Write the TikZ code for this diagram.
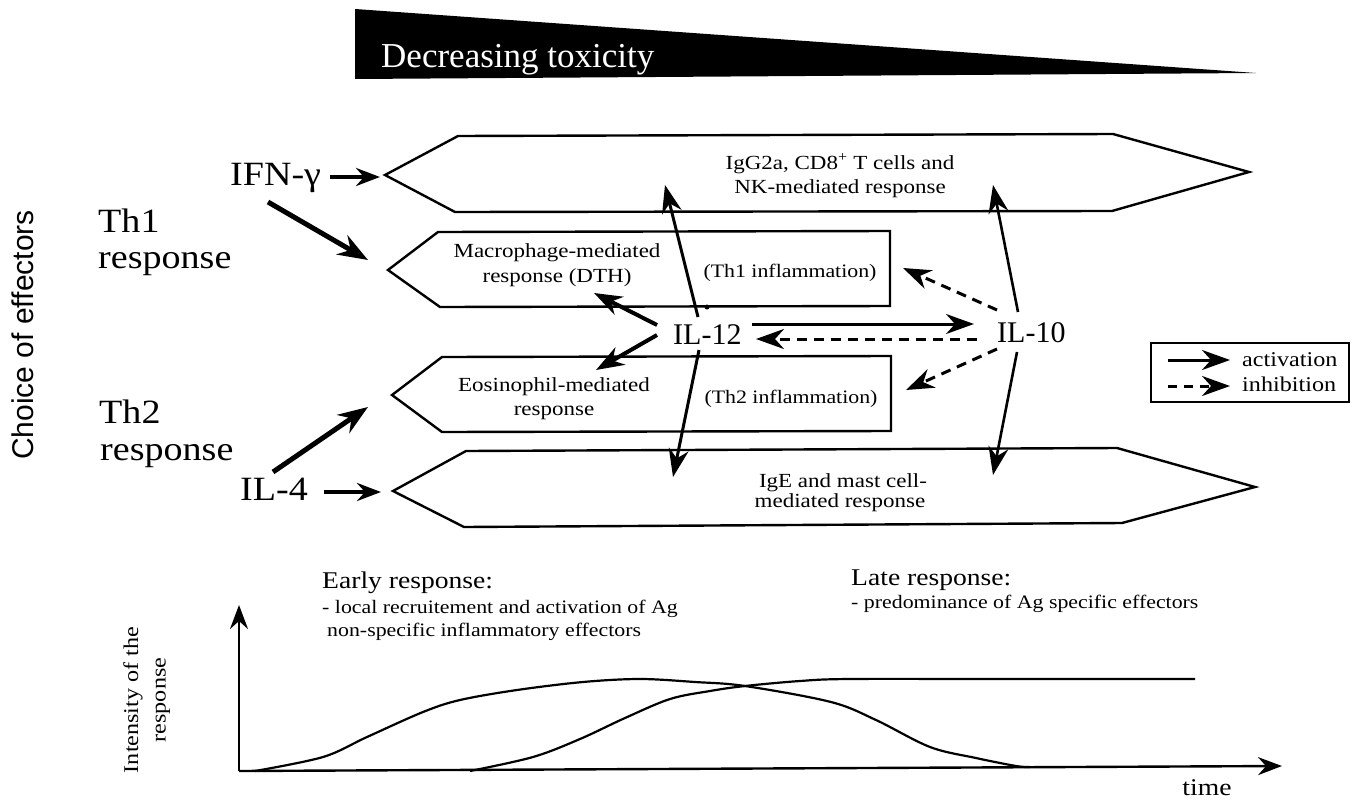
\documentclass[tikz,border=0pt]{standalone}
\usepackage{fontspec}
\setmainfont{Liberation Serif}
\newfontfamily\choicefont{Liberation Sans}
\newfontfamily\wserif[FakeStretch=1.15]{Liberation Serif}
\newfontfamily\mserif[FakeStretch=1.12]{Liberation Serif}
\usetikzlibrary{arrows.meta}
\newcommand\fsz[1]{\fontsize{#1}{#1}\selectfont}
\tikzset{
  shapeline/.style={line width=2.4pt, line join=miter},
  arr/.style={line width=3pt, -{Stealth[length=28pt,width=20pt,inset=9pt]}},
  arrthick/.style={line width=5pt, -{Stealth[length=30pt,width=22pt,inset=10pt]}},
  arrshort/.style={line width=4pt, -{Stealth[length=24pt,width=18pt,inset=8pt]}},
  dasharr/.style={arr, dash pattern=on 10pt off 7pt},
  big/.style={inner sep=0pt, font=\mserif\fsz{34}},
  il/.style={inner sep=0pt, font=\fsz{30}},
  small/.style={inner sep=0pt, font=\wserif\fsz{20}},
  infl/.style={inner sep=0pt, font=\wserif\fsz{19}},
  head/.style={inner sep=0pt, font=\wserif\fsz{24}},
  sub/.style={inner sep=0pt, font=\wserif\fsz{19}},
  legtxt/.style={inner sep=0pt, font=\wserif\fsz{21}},
  curve/.style={line width=2.2pt},
  axis/.style={line width=2.4pt, -{Stealth[length=24pt,width=18pt,inset=8pt]}}
}
\begin{document}
\begin{tikzpicture}[x=1pt,y=-1pt]
\useasboundingbox (0,0) rectangle (1359,803);

% toxicity wedge
\fill (355,9) -- (1256,73) -- (355,79) -- cycle;
\node[inner sep=0pt, font=\fsz{35}, text=white, anchor=base west] (tox) at (381,67) {Decreasing toxicity};

% left labels
\node[inner sep=0pt, font=\choicefont\fsz{30}, rotate=90, anchor=base] (choice) at (33,335) {Choice of effectors};
\node[big, anchor=base west] (th1) at (98,232) {Th1};
\node[big, anchor=base west] (th1r) at (98,268) {response};
\node[big, anchor=base west] (th2) at (99,423) {Th2};
\node[big, anchor=base west] (th2r) at (100,460) {response};
\node[big, anchor=base west] (ifn) at (230,185) {IFN-γ};
\node[big, anchor=base west] (il4) at (240,500) {IL-4};

% effector shapes
\draw[shapeline] (385,175) -- (458,136) -- (1113,134) -- (1249,172) -- (1112,211) -- (455,212) -- cycle;
\draw[shapeline] (388,270) -- (438,232) -- (890,231) -- (890,306) -- (440,307) -- cycle;
\draw[shapeline] (392,395) -- (442,357) -- (891,356) -- (891,431) -- (442,432) -- cycle;
\draw[shapeline] (393,491) -- (466,451) -- (1117,448) -- (1255,487) -- (1122,523) -- (464,527) -- cycle;

% texts in shapes
\node[small, anchor=base] (s1a) at (840,169) {IgG2a, CD8\textsuperscript{+} T cells and};
\node[small, anchor=base] (s1b) at (840,193) {NK-mediated response};
\node[small, anchor=base] (s2a) at (557,257) {Macrophage-mediated};
\node[small, anchor=base] (s2b) at (557,282) {response (DTH)};
\node[infl, anchor=base] (s2c) at (790,277) {(Th1 inflammation)};
\node[small, anchor=base] (s3a) at (554,391) {Eosinophil-mediated};
\node[small, anchor=base] (s3b) at (554,415) {response};
\node[infl, anchor=base] (s3c) at (791,403) {(Th2 inflammation)};
\node[small, anchor=base] (s4a) at (843,487) {IgE and mast cell-};
\node[small, anchor=base] (s4b) at (840,507) {mediated response};

% cytokines
\node[il, anchor=base west] (il12) at (673,344) {IL-12};
\node[il, anchor=base west] (il10) at (997,342) {IL-10};

% coordinates for connectors
\coordinate (ifnA) at (330,177); \coordinate (s1in) at (380,177);
\coordinate (ifnB) at (268,202); \coordinate (s2in) at (368,260);
\coordinate (il4A) at (273,472); \coordinate (s3in) at (368,407);
\coordinate (il4B) at (324,492); \coordinate (s4in) at (381,492);
\coordinate (m1) at (657,325); \coordinate (mac) at (594,293);
\coordinate (m2) at (657,335); \coordinate (eos) at (596,370);
\coordinate (m3) at (698,317); \coordinate (igg1) at (665,185);
\coordinate (m4) at (699,350); \coordinate (ige1) at (673,477);
\coordinate (m5) at (752,324); \coordinate (t10) at (974,324);
\coordinate (n1) at (977,339); \coordinate (t12) at (756,339);
\coordinate (n2) at (997,310); \coordinate (th1i) at (903,268);
\coordinate (n3) at (997,349); \coordinate (th2i) at (906,390);
\coordinate (n4) at (1018,312); \coordinate (igg2) at (993,185);
\coordinate (n5) at (1017,352); \coordinate (ige2) at (993,475);

\draw[arrshort] (ifnA) -- (s1in);
\draw[arrthick] (ifnB) -- (s2in);
\draw[arrthick] (il4A) -- (s3in);
\draw[arrshort] (il4B) -- (s4in);
\draw[arr, line width=4pt] (m1) -- (mac);
\draw[arr, line width=4pt] (m2) -- (eos);
\draw[arr] (m3) -- (igg1);
\draw[arr] (m4) -- (ige1);
\draw[arr] (m5) -- (t10);
\draw[dasharr] (n1) -- (t12);
\draw[dasharr] (n2) -- (th1i);
\draw[dasharr] (n3) -- (th2i);
\draw[arr, line width=2.6pt] (n4) -- (igg2);
\draw[arr, line width=2.6pt] (n5) -- (ige2);
\fill (707,307) circle (2.5);

% legend
\draw[line width=2pt] (1151,343) rectangle (1349,402);
\coordinate (la1) at (1168,360); \coordinate (la2) at (1230,360);
\coordinate (lb1) at (1168,386); \coordinate (lb2) at (1230,386);
\draw[arr] (la1) -- (la2);
\draw[arr, dash pattern=on 9pt off 7pt] (lb1) -- (lb2);
\node[legtxt, anchor=base west] (lact) at (1242,366) {activation};
\node[legtxt, anchor=base west] (linh) at (1242,391) {inhibition};

% bottom chart
\coordinate (org) at (239,771);
\coordinate (ytop) at (239,605);
\coordinate (xend) at (1282,766);
\draw[axis] (org) -- (ytop);
\draw[axis] (org) -- (xend);
\draw[curve] plot[smooth, tension=0.55] coordinates {(255,771) (323,757) (367,737) (423,712) (460,700) (517,690) (583,682) (640,679) (695,682) (745,686) (831,702) (876,720) (930,747) (976,758) (1016,766) (1030,767)};
\draw[curve] plot[smooth, tension=0.55] coordinates {(470,771) (533,757) (580,739) (625,718) (670,699) (710,691) (745,686) (800,681) (849,679) (1000,679) (1195,679)};

\node[inner sep=0pt, font=\wserif\fsz{21}, rotate=90] (int1) at (133,700) {Intensity of the};
\node[inner sep=0pt, font=\wserif\fsz{21}, rotate=90] (int2) at (163,700) {response};
\node[head, anchor=base west] (early) at (322,588) {Early response:};
\node[sub, anchor=base west] (early1) at (322,613) {- local recruitement and activation of Ag};
\node[sub, anchor=base west] (early2) at (327,636) {non-specific inflammatory effectors};
\node[head, anchor=base west] (late) at (851,585) {Late response:};
\node[sub, anchor=base west] (late1) at (851,608) {- predominance of Ag specific effectors};
\node[head, anchor=base] (time) at (1207,795) {time};
\end{tikzpicture}
\end{document}
